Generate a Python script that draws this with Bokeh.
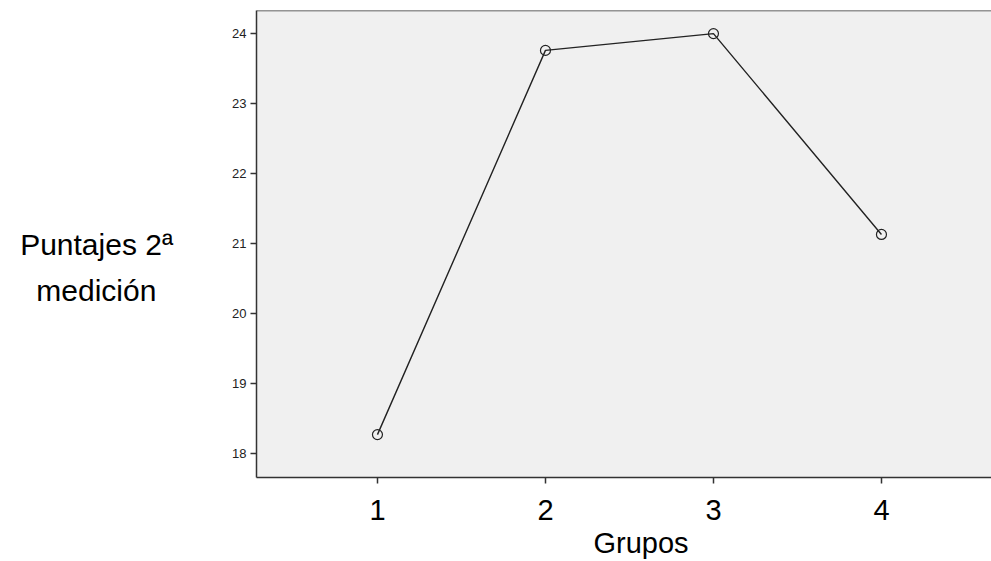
from bokeh.plotting import figure
from bokeh.models import Range1d, FixedTicker, Span, Title
from bokeh.embed import file_html
from bokeh.resources import INLINE

grupos = [1, 2, 3, 4]
puntajes = [18.27, 23.76, 24.0, 21.13]
x_ticks = [1, 2, 3, 4]
y_ticks = [18, 19, 20, 21, 22, 23, 24]
x_label = "Grupos"
y_label_lines = ["", "Puntajes 2\u00aa", "medici\u00f3n\u00a0\u00a0"]

X_START, X_END = 0.28, 4.655
Y_START, Y_END = 17.657, 24.33

FONT = "Liberation Sans"

p = figure(width=991, height=561, output_backend="svg", toolbar_location=None,
           x_range=Range1d(X_START, X_END), y_range=Range1d(Y_START, Y_END),
           min_border_left=256, min_border_top=10, min_border_right=0,
           min_border_bottom=84)
p.border_fill_color = "white"
p.background_fill_color = "#f0f0f0"
p.outline_line_color = None
p.grid.visible = False

p.add_layout(Span(location=Y_END, dimension="width", line_color="#333333", line_width=1.5))

p.line(grupos, puntajes, line_color="#222222", line_width=1.4)
p.scatter(grupos, puntajes, size=10, fill_color=None, line_color="#222222", line_width=1.2)

xa = p.xaxis[0]
xa.ticker = FixedTicker(ticks=x_ticks)
xa.axis_line_color = "#333333"
xa.axis_line_width = 1.5
xa.major_tick_in = 0
xa.major_tick_out = 6
xa.major_tick_line_color = "#333333"
xa.major_tick_line_width = 1.5
xa.minor_tick_line_color = None
xa.major_label_text_font = FONT
xa.major_label_text_font_size = "29px"
xa.major_label_text_color = "black"
xa.major_label_standoff = 16

ya = p.yaxis[0]
ya.ticker = FixedTicker(ticks=y_ticks)
ya.axis_line_color = "#333333"
ya.axis_line_width = 1.5
ya.major_tick_in = 0
ya.major_tick_out = 6
ya.major_tick_line_color = "#333333"
ya.major_tick_line_width = 1.5
ya.minor_tick_line_color = None
ya.major_label_text_font = FONT
ya.major_label_text_font_size = "13px"
ya.major_label_text_color = "#222222"
ya.major_label_standoff = 4
ya.axis_label = "\n".join(y_label_lines)
ya.axis_label_orientation = "horizontal"
ya.axis_label_text_font = FONT
ya.axis_label_text_font_size = "30px"
ya.axis_label_text_font_style = "normal"
ya.axis_label_text_color = "black"
ya.axis_label_text_line_height = 1.4
ya.axis_label_standoff = 56

t = Title(text=x_label, align="left", offset=337, standoff=5,
          text_font=FONT, text_font_size="29px", text_font_style="normal",
          text_color="black")
p.add_layout(t, "below")

open("out.html", "w").write(file_html(p, INLINE))
